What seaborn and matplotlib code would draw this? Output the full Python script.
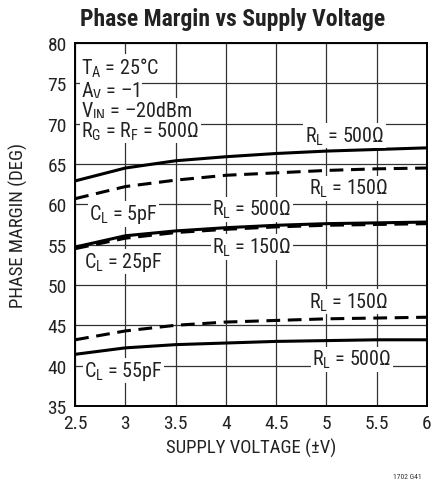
import pandas as pd
import matplotlib
matplotlib.use('Agg')
import matplotlib.pyplot as plt
from matplotlib import font_manager as fm
import seaborn as sns

# supply voltage (±V)
voltage = [2.5, 3.0, 3.5, 4.0, 4.5, 5.0, 5.5, 6.0]

# phase margin (deg) for each load
pm_5pf_500 = [62.9, 64.5, 65.4, 65.9, 66.3, 66.6, 66.8, 67.0]
pm_5pf_150 = [60.7, 62.2, 63.0, 63.6, 63.9, 64.2, 64.4, 64.5]
pm_25pf_500 = [54.7, 56.1, 56.7, 57.1, 57.4, 57.6, 57.7, 57.8]
pm_25pf_150 = [54.5, 55.8, 56.5, 56.9, 57.2, 57.4, 57.5, 57.6]
pm_55pf_150 = [43.2, 44.3, 45.0, 45.4, 45.6, 45.8, 45.9, 46.0]
pm_55pf_500 = [41.4, 42.2, 42.6, 42.8, 43.0, 43.1, 43.2, 43.2]

x_ticks = [2.5, 3, 3.5, 4, 4.5, 5, 5.5, 6]
x_ticklabels = ['2.5', '3', '3.5', '4', '4.5', '5', '5.5', '6']
y_ticks = [35, 40, 45, 50, 55, 60, 65, 70, 75, 80]

curves = [
    ('5pF', '500', pm_5pf_500),
    ('5pF', '150', pm_5pf_150),
    ('25pF', '500', pm_25pf_500),
    ('25pF', '150', pm_25pf_150),
    ('55pF', '150', pm_55pf_150),
    ('55pF', '500', pm_55pf_500),
]
rows = []
for cl, rl, vals in curves:
    for v, p in zip(voltage, vals):
        rows.append({'voltage': v, 'pm': p, 'cl': cl, 'rl': rl, 'curve': cl + rl})
df = pd.DataFrame(rows)

# pick a condensed sans if one is installed
have = set(f.name for f in fm.fontManager.ttflist)
cands = ['Roboto Condensed', 'Liberation Sans Narrow', 'Archivo Narrow', 'PT Sans Narrow',
         'Fira Sans Condensed', 'IBM Plex Sans Condensed', 'Barlow Semi Condensed',
         'Open Sans Condensed', 'Pragati Narrow', 'DejaVu Sans']
font = next(c for c in cands if c in have)

sns.set_style('white')
plt.rcParams['font.family'] = [font, 'DejaVu Sans']
plt.rcParams['mathtext.fontset'] = 'custom'
plt.rcParams['mathtext.rm'] = font

fig = plt.figure(figsize=(4.42, 4.81), dpi=100)
ax = fig.add_axes([0.170, 0.154, 0.796, 0.7545])

sns.lineplot(data=df, x='voltage', y='pm', units='curve', estimator=None,
             style='rl', dashes={'500': '', '150': (4.5, 2.5)},
             color='black', linewidth=2.2, legend=False, ax=ax, zorder=3)

ax.set_xlim(2.5, 6)
ax.set_ylim(35, 80)
ax.set_xticks(x_ticks)
ax.set_xticklabels(x_ticklabels)
ax.set_yticks(y_ticks)
ax.grid(True, color='#333333', linewidth=0.9)
ax.set_axisbelow(True)
for s in ax.spines.values():
    s.set_color('black')
    s.set_linewidth(1.4)
ax.tick_params(axis='both', length=0, labelsize=14, colors='#222222', pad=6)

ax.set_xlabel('SUPPLY VOLTAGE (±V)', fontsize=13.5, color='#222222', labelpad=4)
ax.set_ylabel('PHASE MARGIN (DEG)', fontsize=13.5, color='#222222', labelpad=14)
fig.suptitle('Phase Margin vs Supply Voltage', fontsize=17, fontweight='bold',
             color='#222222', x=0.527, y=0.984)

box = dict(facecolor='white', edgecolor='none', pad=1.0)
cond = [r'T$_\mathregular{A}$ = 25°C', r'A$_\mathregular{V}$ = –1',
        r'V$_\mathregular{IN}$ = –20dBm', r'R$_\mathregular{G}$ = R$_\mathregular{F}$ = 500Ω']
cond_y = [77.0, 74.1, 71.6, 69.1]
for t, yv in zip(cond, cond_y):
    ax.text(2.56, yv, t, fontsize=14.5, ha='left', va='center', color='#222222',
            bbox=box, zorder=4)

labels = [
    (5.18, 68.5, r'R$_\mathregular{L}$ = 500Ω'),
    (5.22, 62.0, r'R$_\mathregular{L}$ = 150Ω'),
    (2.98, 58.8, r'C$_\mathregular{L}$ = 5pF'),
    (4.26, 59.4, r'R$_\mathregular{L}$ = 500Ω'),
    (4.26, 54.7, r'R$_\mathregular{L}$ = 150Ω'),
    (2.98, 52.9, r'C$_\mathregular{L}$ = 25pF'),
    (5.22, 47.9, r'R$_\mathregular{L}$ = 150Ω'),
    (5.25, 40.8, r'R$_\mathregular{L}$ = 500Ω'),
    (2.98, 39.4, r'C$_\mathregular{L}$ = 55pF'),
]
for xv, yv, t in labels:
    ax.text(xv, yv, t, fontsize=14.5, ha='center', va='center', color='#222222',
            bbox=box, zorder=4)

fig.text(0.955, 0.008, '1702 G41', fontsize=5.5, ha='right', va='center', color='#333333')

fig.savefig('out.png', dpi=100)
